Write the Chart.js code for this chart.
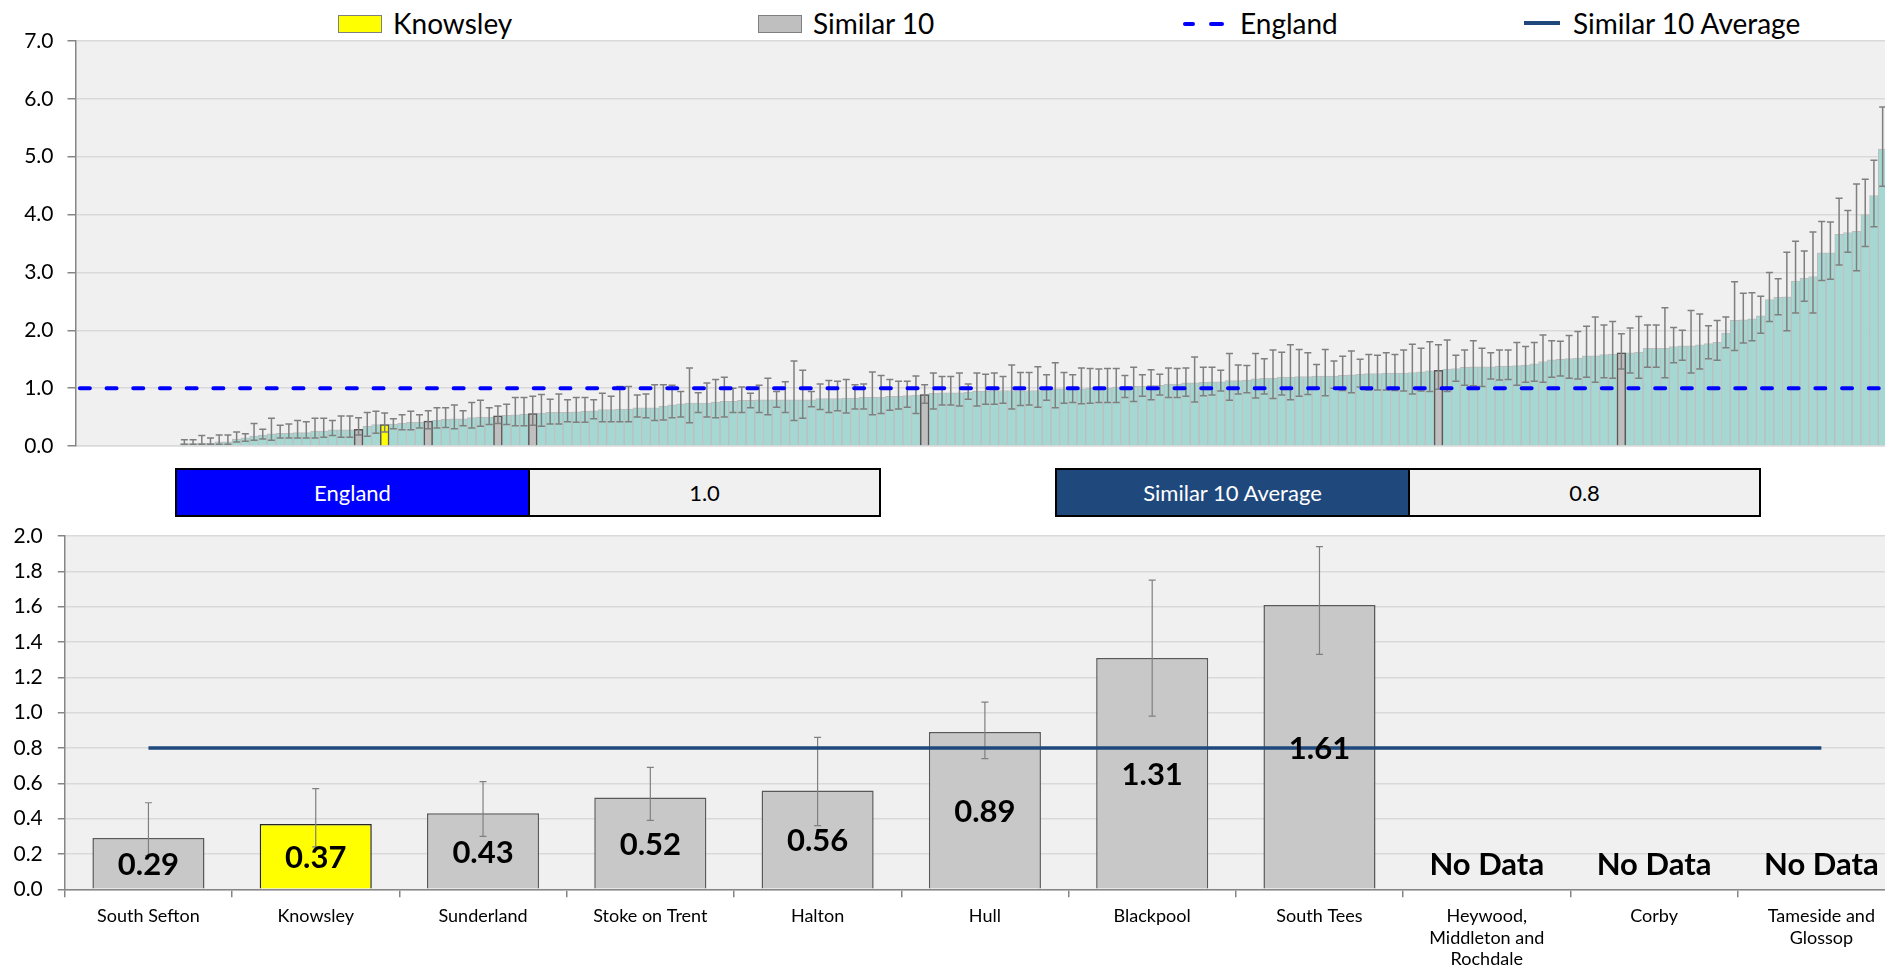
<!DOCTYPE html>
<html>
<head>
<meta charset="utf-8">
<script src="https://cdn.jsdelivr.net/npm/chart.js@4.4.1/dist/chart.umd.min.js"></script>
<style>
  html, body { margin: 0; padding: 0; background: #fff; overflow: hidden; width: 1885px; height: 972px; }
  body { position: relative; font-family: Lato, sans-serif; color: #000; }
  canvas { position: absolute; left: 0; }
  #top-chart { top: 0; }
  #bottom-chart { top: 520px; }
  .lg { position: absolute; }
  .lg-text { position: absolute; top: 7px; font-size: 28px; line-height: 32px; white-space: nowrap; }
  .box-row { position: absolute; top: 468px; height: 49px; display: flex; border: 2px solid #000; box-sizing: border-box; }
  .box-row div { height: 100%; display: flex; align-items: center; justify-content: center; font-size: 22px; box-sizing: border-box; }
  .box-row .name { color: #fff; border-right: 2px solid #000; }
  .box-row .val { background: #f0f0f0; }
</style>
</head>
<body>

<div class="lg" style="left:338px;top:15px;width:44px;height:18px;background:#ffff00;border:1.5px solid #7f7f7f;box-sizing:border-box;"></div>
<div class="lg-text" style="left:393px;">Knowsley</div>
<div class="lg" style="left:758px;top:15px;width:44px;height:18px;background:#bfbfbf;border:1.5px solid #7f7f7f;box-sizing:border-box;"></div>
<div class="lg-text" style="left:813px;">Similar 10</div>
<div class="lg" style="left:1183px;top:22px;width:12px;height:4px;background:#0000ff;border-radius:2px;"></div>
<div class="lg" style="left:1209px;top:22px;width:15px;height:4px;background:#0000ff;border-radius:2px;"></div>
<div class="lg-text" style="left:1240px;">England</div>
<div class="lg" style="left:1524px;top:21px;width:36px;height:4px;background:#1f497d;"></div>
<div class="lg-text" style="left:1573px;">Similar 10 Average</div>

<canvas id="top-chart" width="1887" height="460"></canvas>

<div class="box-row" style="left:175px;width:706px;">
  <div class="name" style="width:353px;background:#0000ff;">England</div>
  <div class="val" style="flex:1;" id="england-value"></div>
</div>
<div class="box-row" style="left:1055px;width:706px;">
  <div class="name" style="width:353px;background:#1f497d;">Similar 10 Average</div>
  <div class="val" style="flex:1;" id="average-value"></div>
</div>

<canvas id="bottom-chart" width="1905" height="452"></canvas>

<script>
// England: every CCG ranked by rate (first 12 slots have no value)
const ccgValues = [
  null, null, null, null, null, null, null, null, null, null, null, null,
  0.04, 0.04, 0.05, 0.05, 0.07, 0.07, 0.12, 0.14, 0.17, 0.19, 0.21, 0.22, 0.22, 0.23, 0.23, 0.26, 0.26, 0.28,
  0.28, 0.28, 0.29, 0.34, 0.37, 0.37, 0.38, 0.39, 0.41, 0.41, 0.43, 0.45, 0.46, 0.47, 0.47, 0.49, 0.50, 0.50,
  0.52, 0.53, 0.54, 0.55, 0.56, 0.57, 0.58, 0.58, 0.58, 0.59, 0.60, 0.61, 0.63, 0.63, 0.64, 0.64, 0.66, 0.66,
  0.66, 0.69, 0.71, 0.73, 0.74, 0.74, 0.74, 0.76, 0.77, 0.77, 0.79, 0.79, 0.80, 0.80, 0.80, 0.80, 0.80, 0.80,
  0.80, 0.82, 0.82, 0.82, 0.83, 0.83, 0.84, 0.84, 0.84, 0.86, 0.86, 0.87, 0.88, 0.89, 0.91, 0.92, 0.92, 0.92,
  0.93, 0.95, 0.95, 0.96, 0.96, 0.96, 0.96, 0.96, 0.96, 0.97, 0.99, 0.99, 0.99, 0.99, 1.00, 1.00, 1.00, 1.02,
  1.03, 1.03, 1.03, 1.05, 1.05, 1.07, 1.07, 1.09, 1.09, 1.10, 1.11, 1.11, 1.13, 1.13, 1.14, 1.16, 1.17, 1.17,
  1.19, 1.19, 1.20, 1.20, 1.21, 1.21, 1.21, 1.22, 1.23, 1.24, 1.25, 1.25, 1.26, 1.26, 1.26, 1.27, 1.28, 1.30,
  1.31, 1.33, 1.34, 1.36, 1.37, 1.37, 1.37, 1.38, 1.38, 1.39, 1.40, 1.42, 1.46, 1.49, 1.50, 1.51, 1.52, 1.56,
  1.56, 1.58, 1.59, 1.61, 1.61, 1.62, 1.69, 1.69, 1.69, 1.72, 1.73, 1.73, 1.75, 1.77, 1.79, 1.95, 2.17, 2.18,
  2.20, 2.25, 2.53, 2.57, 2.58, 2.85, 2.90, 2.93, 3.34, 3.34, 3.66, 3.69, 3.71, 4.00, 4.33, 5.13
];
const ccgLow = [
  null, null, null, null, null, null, null, null, null, null, null, null,
  0.03, 0.03, 0.03, 0.03, 0.03, 0.03, 0.07, 0.08, 0.10, 0.12, 0.10, 0.14, 0.14, 0.14, 0.14, 0.14, 0.15, 0.18,
  0.15, 0.15, 0.19, 0.17, 0.22, 0.24, 0.30, 0.28, 0.28, 0.31, 0.30, 0.31, 0.32, 0.30, 0.35, 0.31, 0.34, 0.37,
  0.39, 0.37, 0.35, 0.35, 0.36, 0.34, 0.38, 0.38, 0.42, 0.41, 0.41, 0.47, 0.42, 0.42, 0.42, 0.42, 0.50, 0.49,
  0.44, 0.45, 0.49, 0.50, 0.40, 0.58, 0.50, 0.49, 0.50, 0.58, 0.58, 0.66, 0.58, 0.54, 0.67, 0.58, 0.44, 0.48,
  0.68, 0.63, 0.58, 0.61, 0.57, 0.64, 0.64, 0.54, 0.56, 0.62, 0.64, 0.67, 0.56, 0.74, 0.64, 0.71, 0.71, 0.69,
  0.81, 0.69, 0.72, 0.72, 0.74, 0.64, 0.70, 0.71, 0.67, 0.79, 0.66, 0.74, 0.75, 0.73, 0.74, 0.75, 0.75, 0.75,
  0.84, 0.77, 0.86, 0.80, 0.88, 0.84, 0.84, 0.86, 0.76, 0.87, 0.88, 0.95, 0.79, 0.90, 0.92, 0.83, 0.90, 0.82,
  0.88, 0.80, 0.86, 0.89, 1.00, 0.87, 1.00, 0.96, 0.92, 1.02, 0.97, 0.97, 0.97, 0.96, 0.95, 0.90, 0.95, 0.94,
  0.98, 0.94, 1.12, 1.05, 1.04, 1.03, 1.16, 1.14, 1.15, 1.05, 1.10, 1.12, 1.10, 1.19, 1.21, 1.17, 1.16, 1.19,
  1.10, 1.18, 1.17, 1.33, 1.26, 1.17, 1.36, 1.36, 1.18, 1.44, 1.48, 1.26, 1.33, 1.51, 1.48, 1.70, 1.65, 1.78,
  1.82, 1.95, 2.15, 2.27, 1.99, 2.30, 2.50, 2.30, 2.86, 2.88, 3.13, 3.35, 3.03, 3.45, 3.79, 4.49
];
const ccgHigh = [
  null, null, null, null, null, null, null, null, null, null, null, null,
  0.11, 0.11, 0.18, 0.14, 0.19, 0.19, 0.24, 0.21, 0.39, 0.29, 0.48, 0.36, 0.38, 0.44, 0.42, 0.48, 0.48, 0.44,
  0.52, 0.52, 0.49, 0.58, 0.60, 0.57, 0.47, 0.54, 0.60, 0.54, 0.61, 0.66, 0.66, 0.71, 0.61, 0.75, 0.79, 0.66,
  0.69, 0.72, 0.84, 0.84, 0.86, 0.89, 0.81, 0.90, 0.80, 0.84, 0.84, 0.80, 0.91, 0.86, 1.03, 1.03, 0.88, 0.90,
  1.06, 1.06, 1.05, 0.94, 1.35, 0.92, 1.09, 1.15, 1.19, 1.00, 1.02, 0.91, 1.05, 1.17, 0.94, 1.11, 1.47, 1.31,
  0.94, 1.07, 1.13, 1.12, 1.15, 1.06, 1.07, 1.28, 1.22, 1.15, 1.12, 1.12, 1.21, 1.06, 1.26, 1.20, 1.20, 1.26,
  1.07, 1.26, 1.24, 1.26, 1.20, 1.40, 1.27, 1.27, 1.37, 1.23, 1.44, 1.27, 1.23, 1.35, 1.34, 1.33, 1.34, 1.34,
  1.22, 1.36, 1.23, 1.32, 1.24, 1.35, 1.34, 1.35, 1.54, 1.36, 1.36, 1.31, 1.60, 1.40, 1.39, 1.60, 1.51, 1.66,
  1.62, 1.75, 1.67, 1.61, 1.41, 1.67, 1.47, 1.55, 1.64, 1.50, 1.58, 1.57, 1.61, 1.58, 1.66, 1.76, 1.69, 1.80,
  1.75, 1.83, 1.57, 1.66, 1.82, 1.69, 1.61, 1.66, 1.66, 1.79, 1.72, 1.79, 1.92, 1.82, 1.81, 1.91, 1.98, 2.07,
  2.23, 2.09, 2.15, 1.94, 2.04, 2.24, 2.09, 2.09, 2.39, 2.05, 2.00, 2.34, 2.28, 2.08, 2.17, 2.23, 2.84, 2.64,
  2.65, 2.59, 3.00, 2.89, 3.35, 3.54, 3.37, 3.70, 3.88, 3.87, 4.28, 4.07, 4.53, 4.61, 4.94, 5.86
];

// Knowsley and its 10 similar CCGs
const areas = ['South Sefton', 'Knowsley', 'Sunderland', 'Stoke on Trent', 'Halton', 'Hull', 'Blackpool',
  'South Tees', ['Heywood,', 'Middleton and', 'Rochdale'], 'Corby', ['Tameside and', 'Glossop']];
const areaValues = [0.29, 0.37, 0.43, 0.52, 0.56, 0.89, 1.31, 1.61, null, null, null];
const areaLow = [0.19, 0.24, 0.30, 0.39, 0.36, 0.74, 0.98, 1.33, null, null, null];
const areaHigh = [0.49, 0.57, 0.61, 0.69, 0.86, 1.06, 1.75, 1.94, null, null, null];
const areaRank = [32, 35, 40, 48, 52, 97, 156, 177, null, null, null];

const englandValue = 1.0;
const similarAverage = 0.8;

const topTicks = [0, 1, 2, 3, 4, 5, 6, 7];
const bottomTicks = [0, 0.2, 0.4, 0.6, 0.8, 1.0, 1.2, 1.4, 1.6, 1.8, 2.0];

Chart.defaults.font.family = 'Lato, sans-serif';
Chart.defaults.color = '#000';

const knowsleyIndex = areas.indexOf('Knowsley');

// grey plot background
const plotBackground = {
  id: 'plotBackground',
  beforeDraw(chart) {
    const { ctx, chartArea: a } = chart;
    ctx.save();
    ctx.fillStyle = '#f0f0f0';
    ctx.fillRect(a.left, a.top, a.right - a.left, a.bottom - a.top);
    ctx.restore();
  }
};

function errorBars(low, high, afterIndex, color, width, cap) {
  return {
    id: 'errorBars',
    afterDatasetDraw(chart, args) {
      if (args.index !== afterIndex) return;
      const { ctx, scales: { x, y } } = chart;
      ctx.save();
      ctx.strokeStyle = color;
      ctx.lineWidth = width;
      low.forEach((lo, i) => {
        const hi = high[i];
        if (lo === null || hi === null) return;
        const px = x.getPixelForValue(i);
        const y1 = y.getPixelForValue(lo);
        const y2 = y.getPixelForValue(hi);
        ctx.beginPath();
        ctx.moveTo(px, y1); ctx.lineTo(px, y2);
        ctx.moveTo(px - cap, y1); ctx.lineTo(px + cap, y1);
        ctx.moveTo(px - cap, y2); ctx.lineTo(px + cap, y2);
        ctx.stroke();
      });
      ctx.restore();
    }
  };
}

// values in the middle of each bar, "No Data" where there is none
const barLabels = {
  id: 'barLabels',
  afterDatasetsDraw(chart) {
    const { ctx, scales: { y } } = chart;
    const meta = chart.getDatasetMeta(1);
    ctx.save();
    ctx.fillStyle = '#000';
    ctx.font = 'bold 31px Lato, sans-serif';
    ctx.textAlign = 'center';
    areaValues.forEach((v, i) => {
      const el = meta.data[i];
      if (v === null) {
        ctx.textBaseline = 'alphabetic';
        ctx.fillText('No Data', el.x, y.getPixelForValue(0) - 14);
      } else {
        ctx.textBaseline = 'middle';
        ctx.fillText(v.toFixed(2), el.x, (el.y + el.base) / 2 + 2);
      }
    });
    ctx.restore();
  }
};

// y axis with fixed width and no extra room for its end labels
function fixedYAxis(width) {
  return (scale) => {
    scale.width = width;
    scale.paddingTop = 0;
    scale.paddingBottom = 0;
  };
}

const ccgLabels = ccgValues.map((_, i) => i + 1);

new Chart(document.getElementById('top-chart'), {
  type: 'bar',
  data: {
    labels: ccgLabels,
    datasets: [{
      type: 'line',
      label: 'England',
      data: ccgLabels.map(() => englandValue),
      borderColor: '#0000ff',
      borderWidth: 4,
      borderDash: [10, 16.7],
      borderCapStyle: 'round',
      pointRadius: 0,
      order: 0
    }, {
      label: 'Knowsley',
      data: ccgValues.map((v, i) => i === areaRank[knowsleyIndex] ? v : null),
      backgroundColor: '#ffff00',
      borderColor: '#595959',
      borderWidth: 1.5,
      grouped: false,
      order: 1
    }, {
      label: 'Similar 10',
      data: ccgValues.map((v, i) => areaRank.includes(i) && i !== areaRank[knowsleyIndex] ? v : null),
      backgroundColor: '#bfbfbf',
      borderColor: '#595959',
      borderWidth: 1.5,
      grouped: false,
      order: 2
    }, {
      label: 'CCGs',
      data: ccgValues,
      backgroundColor: '#a6d8d3',
      borderColor: '#bdbdbd',
      borderWidth: 1,
      grouped: false,
      order: 3
    }]
  },
  options: {
    responsive: false,
    animation: false,
    layout: { padding: { top: 41, right: 0, left: 0, bottom: 0 } },
    datasets: { bar: { barPercentage: 1, categoryPercentage: 1 } },
    plugins: { legend: { display: false }, tooltip: { enabled: false } },
    scales: {
      x: {
        offset: true,
        ticks: { display: false },
        grid: { drawOnChartArea: false, drawTicks: false },
        border: { color: '#d9d9d9', width: 1.5 },
        afterFit: (scale) => { scale.height = 14; }
      },
      y: {
        min: 0,
        max: 7,
        afterBuildTicks: (scale) => { scale.ticks = topTicks.map(v => ({ value: v })); },
        ticks: { font: { size: 21 }, padding: 14, callback: (v) => Number(v).toFixed(1) },
        grid: { color: '#d9d9d9', lineWidth: 1.5, tickLength: 8, tickColor: '#868686' },
        border: { color: '#868686', width: 1.5 },
        afterFit: fixedYAxis(75.5)
      }
    }
  },
  plugins: [plotBackground, errorBars(ccgLow, ccgHigh, 1, '#7f7f7f', 1.5, 3.5)]
});

document.getElementById('england-value').textContent = englandValue.toFixed(1);
document.getElementById('average-value').textContent = similarAverage.toFixed(1);

new Chart(document.getElementById('bottom-chart'), {
  type: 'bar',
  data: {
    labels: areas,
    datasets: [{
      type: 'line',
      label: 'Similar 10 Average',
      data: areas.map(() => similarAverage),
      borderColor: '#1f497d',
      borderWidth: 3.5,
      pointRadius: 0,
      order: 0
    }, {
      label: 'Similar 10',
      data: areaValues,
      backgroundColor: (c) => c.dataIndex === knowsleyIndex ? '#ffff00' : '#c8c8c8',
      borderColor: (c) => c.dataIndex === knowsleyIndex ? '#262626' : '#595959',
      borderWidth: 1.5,
      barPercentage: 0.67,
      categoryPercentage: 1,
      order: 1
    }]
  },
  options: {
    responsive: false,
    animation: false,
    layout: { padding: { top: 16, right: 0, left: 0, bottom: 0 } },
    plugins: { legend: { display: false }, tooltip: { enabled: false } },
    scales: {
      x: {
        offset: true,
        ticks: { font: { size: 18 }, padding: 8, autoSkip: false, maxRotation: 0 },
        grid: { offset: true, drawOnChartArea: false, tickLength: 8, tickColor: '#868686', lineWidth: 1.5 },
        border: { color: '#868686', width: 1.5 },
        afterFit: (scale) => { scale.height = 82.7; }
      },
      y: {
        min: 0,
        max: 2,
        afterBuildTicks: (scale) => { scale.ticks = bottomTicks.map(v => ({ value: v })); },
        ticks: { font: { size: 21 }, padding: 15, callback: (v) => Number(v).toFixed(1) },
        grid: { color: '#d9d9d9', lineWidth: 1.5, tickLength: 7, tickColor: '#868686' },
        border: { color: '#868686', width: 1.5 },
        afterFit: fixedYAxis(64.8)
      }
    }
  },
  plugins: [plotBackground, errorBars(areaLow, areaHigh, 1, '#808080', 1.2, 3.5), barLabels]
});
</script>
</body>
</html>
